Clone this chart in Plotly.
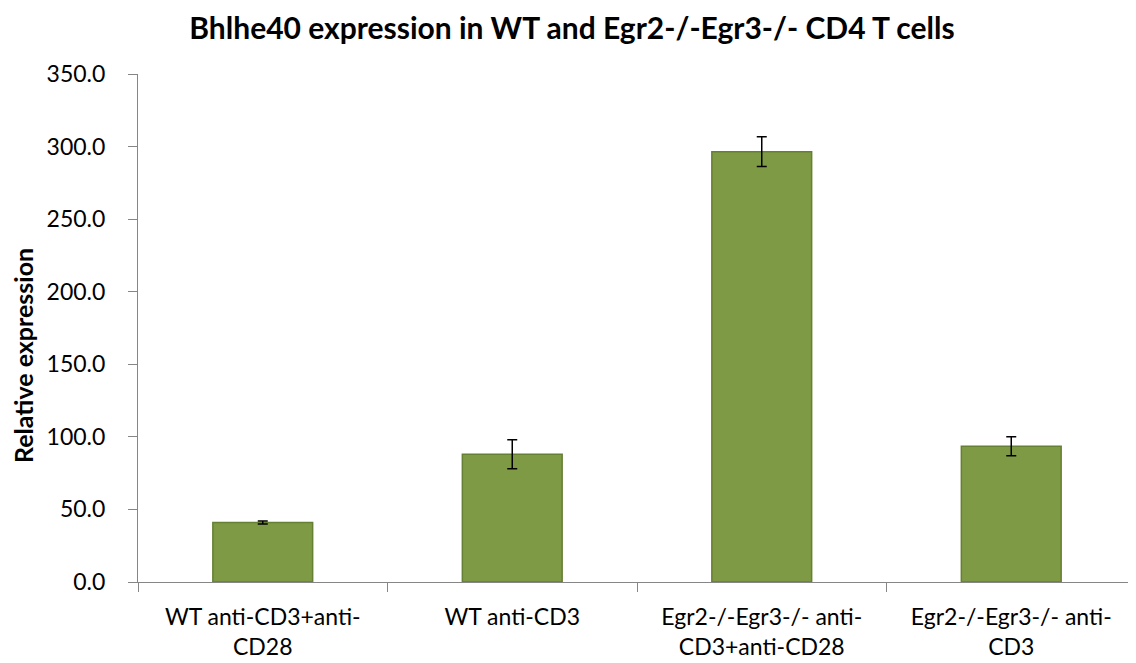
import plotly.graph_objects as go

categories = ["WT anti-CD3+anti-<br>CD28", "WT anti-CD3",
              "Egr2-/-Egr3-/- anti-<br>CD3+anti-CD28", "Egr2-/-Egr3-/- anti-<br>CD3"]
values = [41.0, 88.0, 296.5, 93.5]
errors = [1.0, 10.0, 10.2, 6.5]
y_ticks = [0, 50, 100, 150, 200, 250, 300, 350]

FONT = "Lato"
# page body has an 8px margin, so the figure is sized to fit the window
W, H = 1128, 655
ML, MR, MT, MB = 130, 0, 66, 81

fig = go.Figure(go.Bar(
    x=categories, y=values, width=0.4,
    marker=dict(color="#7F9A44", line=dict(color="#657F33", width=1.5)),
    error_y=dict(type="data", array=errors, visible=True, color="#000000",
                 thickness=1.5, width=5),
))

fig.update_layout(
    width=W, height=H,
    margin=dict(l=ML, r=MR, t=MT, b=MB, autoexpand=False),
    paper_bgcolor="white", plot_bgcolor="white",
    title=dict(text="<b>Bhlhe40 expression in WT and Egr2-/-Egr3-/- CD4 T cells</b>",
               x=0.5, xanchor="center", y=1 - 20 / H, yanchor="middle",
               font=dict(family=FONT, size=30, color="#000000")),
    font=dict(family=FONT, color="#000000"),
    showlegend=False,
)
fig.add_annotation(
    text="<b>Relative expression</b>", textangle=-90,
    xref="paper", yref="paper",
    x=(15 - ML) / (W - ML - MR), y=(H - MB - 348) / (H - MT - MB),
    xanchor="center", yanchor="middle", showarrow=False,
    font=dict(family=FONT, size=25, color="#000000"),
)
fig.update_yaxes(
    range=[0, 350], tickvals=y_ticks, tickformat=".1f",
    showgrid=False, zeroline=False, automargin=False,
    showline=True, linecolor="#868686", linewidth=1,
    ticks="outside", ticklen=9, tickcolor="#868686",
    tickfont=dict(family=FONT, size=23, color="#000000"),
    ticklabelstandoff=18,
)
fig.update_xaxes(
    showgrid=False, showline=True, linecolor="#868686", linewidth=1,
    automargin=False,
    ticks="outside", ticklen=9, tickcolor="#868686", tickson="boundaries",
    tickfont=dict(family=FONT, size=23, color="#000000"),
    ticklabelstandoff=14,
)

fig.write_html("out.html")
